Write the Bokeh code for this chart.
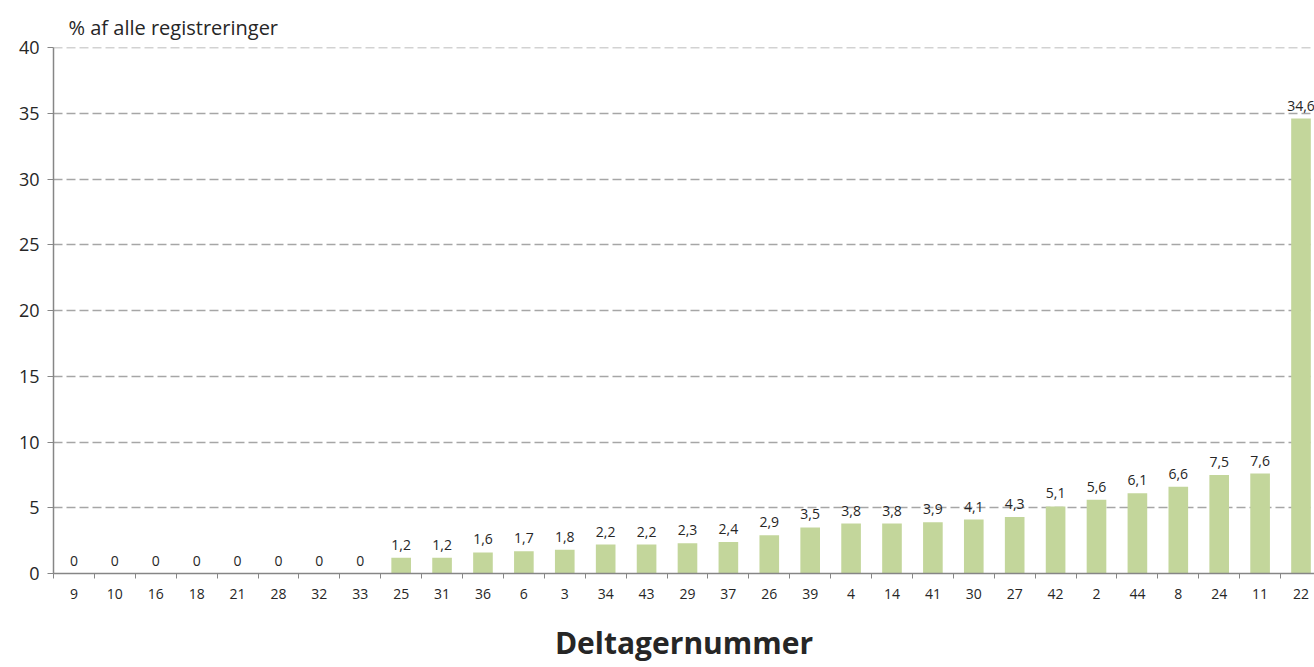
from bokeh.plotting import figure
from bokeh.models import ColumnDataSource, FixedTicker, Range1d, Span
from bokeh.embed import file_html
from bokeh.resources import INLINE
from bokeh.core.properties import value

categories = ["9", "10", "16", "18", "21", "28", "32", "33", "25", "31", "36", "6", "3",
              "34", "43", "29", "37", "26", "39", "4", "14", "41", "30", "27", "42", "2",
              "44", "8", "24", "11", "22"]
values = [0, 0, 0, 0, 0, 0, 0, 0, 1.2, 1.2, 1.6, 1.7, 1.8, 2.2, 2.2, 2.3, 2.4, 2.9,
          3.5, 3.8, 3.8, 3.9, 4.1, 4.3, 5.1, 5.6, 6.1, 6.6, 7.5, 7.6, 34.6]
y_ticks = [0, 5, 10, 15, 20, 25, 30, 35, 40]

labels = ["0" if v == 0 else f"{v:.1f}".replace(".", ",") for v in values]
xs = [i + 0.5 for i in range(len(categories))]

src = ColumnDataSource(dict(x=xs, top=values, label=labels))

FONT = "Open Sans"
TXT = "#262626"
AX = "#868686"
GRID = "#a6a6a6"

p = figure(width=1314, height=667, output_backend="svg", toolbar_location=None,
           x_range=Range1d(0, 30.83), y_range=Range1d(0, 40),
           min_border_left=53, min_border_right=0, min_border_top=47, min_border_bottom=94)
p.outline_line_color = None
p.background_fill_color = "white"
p.border_fill_color = "white"

p.vbar(x="x", top="top", width=0.48, bottom=0, source=src,
       fill_color="#c3d69b", line_color=None)

p.text(x="x", y="top", text="label", source=src, text_align="center",
       text_baseline="alphabetic", y_offset=-13, text_font=value(FONT),
       text_font_size="14px", text_color=TXT)

# x axis
p.xaxis.ticker = FixedTicker(ticks=xs, minor_ticks=list(range(len(categories) + 1)))
p.xaxis.major_label_overrides = {x: c for x, c in zip(xs, categories)}
p.xaxis.major_tick_line_color = None
p.xaxis.minor_tick_out = 5
p.xaxis.minor_tick_in = 0
p.xaxis.minor_tick_line_color = AX
p.xaxis.axis_line_color = AX
p.xaxis.axis_line_width = 1.5
p.xaxis.major_label_text_font = FONT
p.xaxis.major_label_text_font_size = "14px"
p.xaxis.major_label_text_color = TXT
p.xaxis.major_label_standoff = 9
p.xaxis.axis_label = "Deltagernummer"
p.xaxis.axis_label_text_font = FONT
p.xaxis.axis_label_text_font_size = "30px"
p.xaxis.axis_label_text_font_style = "bold"
p.xaxis.axis_label_text_color = TXT
p.xaxis.axis_label_standoff = 20

# y axis
p.yaxis.ticker = FixedTicker(ticks=y_ticks)
p.yaxis.major_tick_out = 6
p.yaxis.major_tick_in = 0
p.yaxis.major_tick_line_color = AX
p.yaxis.minor_tick_line_color = None
p.yaxis.axis_line_color = AX
p.yaxis.axis_line_width = 1.5
p.yaxis.major_label_text_font = FONT
p.yaxis.major_label_text_font_size = "18px"
p.yaxis.major_label_text_color = TXT
p.yaxis.major_label_standoff = 8

p.xgrid.grid_line_color = None
p.ygrid.ticker = FixedTicker(ticks=y_ticks[1:])
p.ygrid.grid_line_color = GRID
p.ygrid.grid_line_width = 1.5
p.ygrid.grid_line_dash = "9 4"

# top gridline at the range end (not drawn by the grid itself)
p.add_layout(Span(location=y_ticks[-1], dimension="width", line_color=GRID,
                  line_width=1.5, line_dash="9 4"))

p.title.text = "% af alle registreringer"
p.title.text_font = FONT
p.title.text_font_size = "20px"
p.title.text_font_style = "normal"
p.title.text_color = TXT
p.title.offset = 15
p.title.standoff = 14

open("out.html", "w").write(file_html(p, INLINE))
